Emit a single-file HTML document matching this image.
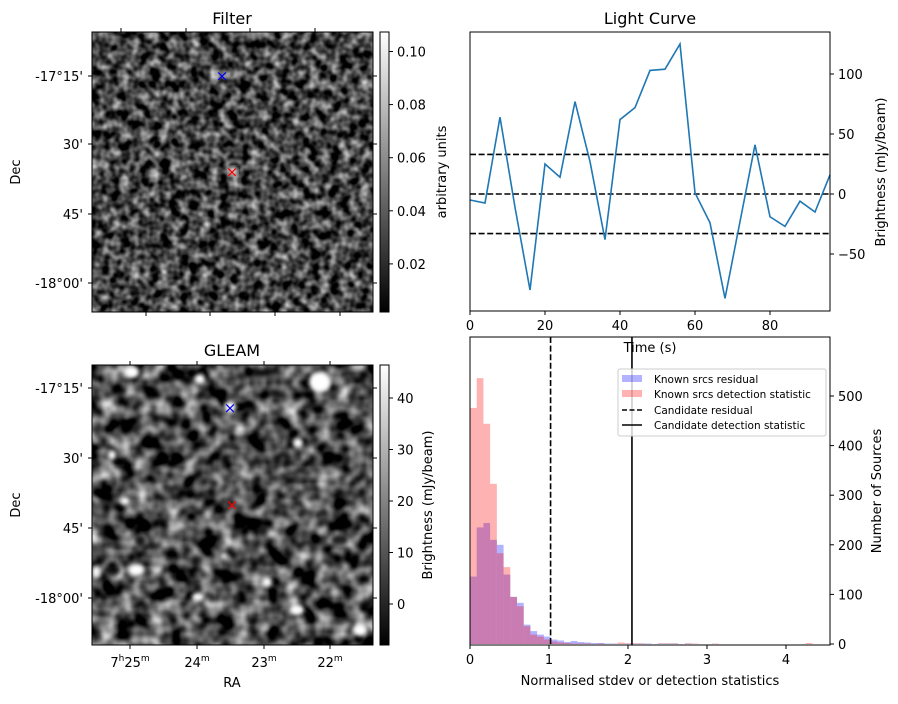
<!DOCTYPE html>
<html><head><meta charset="utf-8"><style>
body{margin:0;background:#fff;font-family:"Liberation Sans","DejaVu Sans",sans-serif}
svg text{font-family:"DejaVu Sans","Liberation Sans",sans-serif;font-size:13px;fill:#000}
</style></head><body>
<svg id="fig" width="898" height="699" viewBox="0 0 898 699" xmlns="http://www.w3.org/2000/svg">
<defs>
<filter id="nf1" x="0" y="0" width="100%" height="100%" color-interpolation-filters="sRGB"><feTurbulence type="fractalNoise" baseFrequency="0.1" numOctaves="2" seed="3"/><feColorMatrix type="matrix" values="1.4 0 0 0 -0.43  1.4 0 0 0 -0.43  1.4 0 0 0 -0.43  0 0 0 0 1"/></filter>
<filter id="nf2" x="0" y="0" width="100%" height="100%" color-interpolation-filters="sRGB"><feTurbulence type="fractalNoise" baseFrequency="0.06" numOctaves="2" seed="7"/><feColorMatrix type="matrix" values="1.6 0 0 0 -0.5  1.6 0 0 0 -0.5  1.6 0 0 0 -0.5  0 0 0 0 1"/></filter>
<filter id="blur"><feGaussianBlur stdDeviation="2"/></filter>
<linearGradient id="cb" x1="0" y1="1" x2="0" y2="0"><stop offset="0" stop-color="#000"/><stop offset="1" stop-color="#fff"/></linearGradient>
<clipPath id="c1"><rect x="92" y="32" width="281" height="280"/></clipPath>
<clipPath id="c2"><rect x="92" y="365" width="281" height="280"/></clipPath>
</defs>

<!-- Filter panel -->
<text x="232" y="24" text-anchor="middle" style="font-size:16px">Filter</text>
<g>
<rect x="92" y="32" width="281" height="280" filter="url(#nf1)"/>
<ellipse cx="233" cy="171" rx="5" ry="5" fill="#ddd" filter="url(#blur)" clip-path="url(#c1)"/>
</g>
<rect x="92" y="32" width="281" height="280" fill="none" stroke="#000"/>
<text x="222" y="81" text-anchor="middle" style="font-size:15px;fill:blue">×</text>
<text x="232" y="177" text-anchor="middle" style="font-size:15px;fill:red">×</text>
<g id="filterAxes"></g>
<text transform="translate(20,172) rotate(-90)" text-anchor="middle">Dec</text>
<rect x="380" y="32" width="9" height="280" fill="url(#cb)" stroke="#000"/>
<g id="cb1"></g>
<text transform="translate(446,172) rotate(-90)" text-anchor="middle">arbitrary units</text>

<!-- GLEAM panel -->
<text x="232" y="356" text-anchor="middle" style="font-size:16px">GLEAM</text>
<g clip-path="url(#c2)">
<rect x="92" y="365" width="281" height="280" filter="url(#nf2)"/>
<g fill="#fff" filter="url(#blur)">
<ellipse cx="132" cy="372" rx="7" ry="6"/><ellipse cx="200" cy="379" rx="5" ry="5"/>
<ellipse cx="320" cy="382" rx="11" ry="10"/><ellipse cx="230" cy="407" rx="6" ry="6"/>
<ellipse cx="298" cy="443" rx="5" ry="5"/><ellipse cx="112" cy="455" rx="4" ry="5"/>
<ellipse cx="125" cy="501" rx="5" ry="4"/><ellipse cx="136" cy="570" rx="8" ry="6"/>
<ellipse cx="96" cy="572" rx="4" ry="6"/><ellipse cx="267" cy="582" rx="5" ry="5"/>
<ellipse cx="198" cy="597" rx="6" ry="4"/><ellipse cx="297" cy="610" rx="7" ry="5"/>
<ellipse cx="360" cy="630" rx="7" ry="6"/><ellipse cx="224" cy="556" rx="3" ry="3"/>
</g>
<g fill="#000" filter="url(#blur)" opacity="0.8">
<ellipse cx="112" cy="570" rx="8" ry="5"/><ellipse cx="340" cy="540" rx="8" ry="5"/><ellipse cx="140" cy="540" rx="5" ry="5"/>
</g>
</g>
<rect x="92" y="365" width="281" height="280" fill="none" stroke="#000"/>
<text x="230" y="413" text-anchor="middle" style="font-size:15px;fill:blue">×</text>
<text x="232" y="510" text-anchor="middle" style="font-size:15px;fill:red">×</text>
<g id="gleamAxes"></g>
<text transform="translate(20,505) rotate(-90)" text-anchor="middle">Dec</text>
<text x="232" y="687" text-anchor="middle">RA</text>
<rect x="380" y="365" width="9" height="280" fill="url(#cb)" stroke="#000"/>
<g id="cb2"></g>
<text transform="translate(432,505) rotate(-90)" text-anchor="middle">Brightness (mJy/beam)</text>

<!-- Light curve -->
<text x="650" y="24" text-anchor="middle" style="font-size:16px">Light Curve</text>
<g id="lc"></g>
<rect x="470" y="32" width="360" height="279" fill="none" stroke="#000"/>
<text x="650" y="352" text-anchor="middle">Time (s)</text>
<text transform="translate(885,172) rotate(-90)" text-anchor="middle">Brightness (mJy/beam)</text>

<!-- Histogram -->
<g id="hist"></g>
<rect x="470" y="337" width="360" height="308" fill="none" stroke="#000"/>
<text x="650" y="685" text-anchor="middle">Normalised stdev or detection statistics</text>
<text transform="translate(881,491) rotate(-90)" text-anchor="middle">Number of Sources</text>
<g>
<rect x="618" y="369" width="208" height="67" fill="#fff" fill-opacity="0.8" stroke="#ccc" rx="2"/>
<rect x="622" y="375" width="20" height="7" fill="rgba(0,0,255,0.3)"/>
<text x="654" y="383" style="font-size:10.5px">Known srcs residual</text>
<rect x="622" y="390" width="20" height="7" fill="rgba(255,0,0,0.3)"/>
<text x="654" y="398" style="font-size:10.5px">Known srcs detection statistic</text>
<line x1="622" y1="410" x2="642" y2="410" stroke="#000" stroke-width="1.5" stroke-dasharray="5,2.5"/>
<text x="654" y="414" style="font-size:10.5px">Candidate residual</text>
<line x1="622" y1="425" x2="642" y2="425" stroke="#000" stroke-width="1.5"/>
<text x="654" y="429" style="font-size:10.5px">Candidate detection statistic</text>
</g>
</svg>
<script>
const NS="http://www.w3.org/2000/svg";
// Light curve data
const lcTimes=[0,4,8,12,16,20,24,28,32,36,40,44,48,52,56,60,64,68,72,76,80,84,88,92,96];
const lcValues=[-5,-7.5,64,-11,-80,25,14,77,27,-38,62,72,103,104,125,1,-24,-87,-23,41,-19,-27,-6,-15,16];
const lcHLines=[-33,0,33];
const lcXTicks=[0,20,40,60,80];
const lcYTicks=[-50,0,50,100];
// Histogram data
const binWidth=0.085;
const redCounts=[476,536,444,323,183,155,95,76,36,19,15,9,5,3,2,1,1,1,0,1,0,0,3,1,1,1,0,0,1,1,1,0,1,1,0,0,1,0,0,0,0,0,0,0,0,0,0,0,0,0,2,0,0];
const blueCounts=[136,235,244,210,200,140,95,83,39,26,19,15,9,7,4,6,4,3,2,2,1,1,0,1,1,1,1,0,1,1,1,0,1,0,0,0,0,0,0,0,0,0,0,0,0,0,0,0,0,0,0,0,0];
const candResidual=1.02;
const candDetection=2.05;
const hXTicks=[0,1,2,3,4];
const hYTicks=[0,100,200,300,400,500];
// Image axis ticks
const decLabels=["-17°15'","30'","45'","-18°00'"];
const raLabels=["25","24","23","22"];
const cb1Ticks=[0.02,0.04,0.06,0.08,0.10];
const cb2Ticks=[0,10,20,30,40];

function el(tag,attrs,parent,txt){const e=document.createElementNS(NS,tag);for(const k in attrs)e.setAttribute(k,attrs[k]);if(txt!==undefined)e.textContent=txt;parent.appendChild(e);return e;}

// light curve
const lcX=t=>470+t*3.75, lcY=v=>194-v*1.2;
const lc=document.getElementById('lc');
lcHLines.forEach(v=>{const l=el('line',{x1:470,x2:830,y1:lcY(v),y2:lcY(v),stroke:'#000','stroke-width':1.6,'stroke-dasharray':'6,2.6'},lc);

});
const p=el('polyline',{points:lcTimes.map((t,i)=>lcX(t)+','+lcY(lcValues[i])).join(' '),fill:'none',stroke:'#1f77b4','stroke-width':1.6},lc);


lcXTicks.forEach(t=>{el('line',{x1:lcX(t),x2:lcX(t),y1:311,y2:315,stroke:'#000'},lc);
const tx=el('text',{x:lcX(t),y:330,'text-anchor':'middle'},lc,String(t));

});
lcYTicks.forEach(v=>{el('line',{x1:830,x2:834,y1:lcY(v),y2:lcY(v),stroke:'#000'},lc);
const tx=el('text',{x:838,y:lcY(v)+5},lc,String(v).replace('-','−'));

});

// histogram
const hX=v=>470+v*79, hY=c=>644-c*0.496;
const h=document.getElementById('hist');
blueCounts.forEach((c,i)=>{if(!c)return;const r=el('rect',{x:hX(i*binWidth),y:hY(c),width:binWidth*79,height:644-hY(c),fill:'rgba(0,0,255,0.3)'},h);

});
redCounts.forEach((c,i)=>{if(!c)return;const r=el('rect',{x:hX(i*binWidth),y:hY(c),width:binWidth*79,height:644-hY(c),fill:'rgba(255,0,0,0.3)'},h);

});
const l1=el('line',{x1:hX(candResidual),x2:hX(candResidual),y1:337,y2:645,stroke:'#000','stroke-width':1.6,'stroke-dasharray':'6,2.6'},h);


const l2=el('line',{x1:hX(candDetection),x2:hX(candDetection),y1:337,y2:645,stroke:'#000','stroke-width':1.6},h);


hXTicks.forEach(t=>{el('line',{x1:hX(t),x2:hX(t),y1:645,y2:649,stroke:'#000'},h);
const tx=el('text',{x:hX(t),y:664,'text-anchor':'middle'},h,String(t));

});
hYTicks.forEach(v=>{el('line',{x1:830,x2:834,y1:hY(v),y2:hY(v),stroke:'#000'},h);
const tx=el('text',{x:838,y:hY(v)+5},h,String(v));

});

// image axes
function imgAxes(id,top,decY,topX,botX,withRA){const g=document.getElementById(id);
decLabels.forEach((s,i)=>{el('line',{x1:88,x2:92,y1:decY[i],y2:decY[i],stroke:'#000'},g);
el('line',{x1:373,x2:377,y1:decY[i],y2:decY[i],stroke:'#000'},g);
const tx=el('text',{x:83,y:decY[i]+5,'text-anchor':'end'},g,s);

});
topX.forEach(x=>el('line',{x1:x,x2:x,y1:top-4,y2:top,stroke:'#000'},g));
botX.forEach((x,i)=>{el('line',{x1:x,x2:x,y1:top+280,y2:top+284,stroke:'#000'},g);
if(withRA){const t=el('text',{x:x,y:top+302,'text-anchor':'middle'},g);


if(i==0){el('tspan',{},t,'7');el('tspan',{dy:-6,style:'font-size:9px'},t,'h');el('tspan',{dy:6},t,raLabels[i]);}else{el('tspan',{},t,raLabels[i]);}
el('tspan',{dy:-6,style:'font-size:9px'},t,'m');}});}
imgAxes('filterAxes',32,[76,144,214,283],[121,186,250,315],[146,210,275,340],false);
imgAxes('gleamAxes',365,[388,458,528,598],[130,197,264,330],[130,197,264,330],true);
function cbTicks(id,ticks,y0,slope,fmt){const g=document.getElementById(id);
ticks.forEach(v=>{const y=y0+v*slope;el('line',{x1:389,x2:393,y1:y,y2:y,stroke:'#000'},g);
const tx=el('text',{x:397,y:y+5},g,fmt(v));

});}
cbTicks('cb1',cb1Ticks,317,-2655,v=>v.toFixed(2));
cbTicks('cb2',cb2Ticks,604,-5.15,v=>String(v));
</script>
</body></html>
